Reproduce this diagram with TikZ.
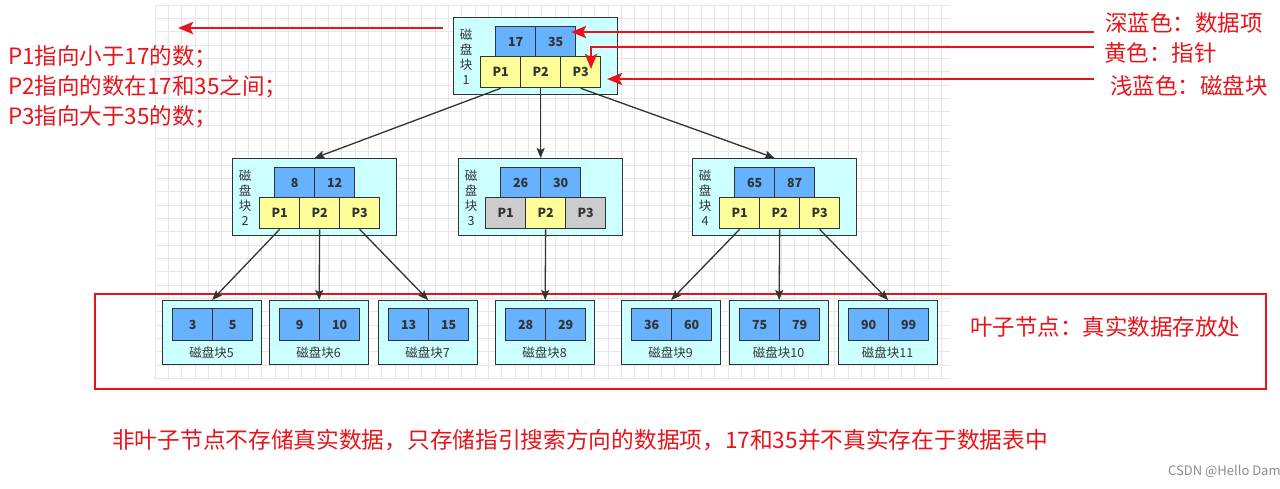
\documentclass[tikz,border=0pt]{standalone}
\usepackage{fontspec}
\setmainfont{Noto Sans CJK SC}
\usetikzlibrary{arrows.meta}
\definecolor{blk}{HTML}{CCFFFF}
\definecolor{keyc}{HTML}{66B2FF}
\definecolor{ptrc}{HTML}{FFFF99}
\definecolor{gryc}{HTML}{CCCCCC}
\definecolor{edgec}{HTML}{333333}
\definecolor{txtc}{HTML}{333333}
\definecolor{myred}{HTML}{E8141B}
\definecolor{gridc}{HTML}{E6E6E6}
\tikzset{
  blockbox/.style={draw=edgec, fill=blk, line width=1.3pt, inner sep=0pt, anchor=north west},
  cell/.style={draw=edgec, line width=1.3pt, minimum width=40pt, inner sep=0pt, anchor=north west,
    font=\fontsize{12.5}{13}\selectfont\bfseries, text=txtc},
  keycell/.style={cell, fill=keyc, minimum height=30pt},
  ptrcell/.style={cell, fill=ptrc, minimum height=31pt},
  grycell/.style={cell, fill=gryc, minimum height=31pt},
  blabel/.style={inner sep=0pt, align=center, text=txtc, font=\fontsize{12.5}{15}\selectfont},
  leaflabel/.style={inner sep=0pt, text=txtc, font=\fontsize{12.5}{15}\selectfont},
  conn/.style={draw=edgec, line width=1.3pt, -{Stealth[length=10pt,width=8pt,inset=2pt]}},
  redarrow/.style={draw=myred, line width=2.9pt, -{Stealth[length=15pt,width=12pt,inset=3pt]}},
  redtext/.style={inner sep=0pt, anchor=west, text=myred, font=\fontsize{22.5}{30}\selectfont},
}
\newcommand\inode[8]{%
  \node[blockbox, minimum width=164pt, minimum height=77pt] (#1) at (#2,#3) {};
  \node[keycell] (#1k1) at ({#2+42},{#3+9}) {#4};
  \node[keycell] (#1k2) at ({#2+82},{#3+9}) {#5};
  \node[#7] (#1p1) at ({#2+27},{#3+39}) {P1};
  \node[ptrcell] (#1p2) at ({#2+67},{#3+39}) {P2};
  \node[#8] (#1p3) at ({#2+107},{#3+39}) {P3};
  \node[blabel] (#1l) at ({#2+13},{#3+39.5}) {磁\\盘\\块\\#6};
}
\newcommand\lnode[5]{%
  \node[blockbox, minimum width=99pt, minimum height=64pt] (#1) at (#2,300) {};
  \node[keycell, minimum height=32pt] (#1k1) at ({#2+10},308) {#3};
  \node[keycell, minimum height=32pt] (#1k2) at ({#2+50},308) {#4};
  \node[leaflabel] (#1l) at ({#2+49.5},353) {磁盘块#5};
}
\begin{document}
\begin{tikzpicture}[x=1pt,y=-1pt]
\useasboundingbox[fill=white] (0,0) rectangle (1280,488);
% grid
\foreach \i in {0,...,59} \draw[gridc, line width=0.8pt] ({155+\i*13.33},5) -- ({155+\i*13.33},380);
\foreach \j in {0,...,28} \draw[gridc, line width=0.8pt] (155,{5+\j*13.33}) -- (950,{5+\j*13.33});
% red frame
\draw[myred, line width=2.6pt] (95,294) rectangle (1266,389);
% internal nodes
\inode{n1}{453}{17}{17}{35}{1}{ptrcell}{ptrcell}
\inode{n2}{232}{158}{8}{12}{2}{ptrcell}{ptrcell}
\inode{n3}{458}{158}{26}{30}{3}{grycell}{grycell}
\inode{n4}{692}{158}{65}{87}{4}{ptrcell}{ptrcell}
% leaves
\lnode{l5}{162}{3}{5}{5}
\lnode{l6}{269}{9}{10}{6}
\lnode{l7}{378}{13}{15}{7}
\lnode{l8}{495}{28}{29}{8}
\lnode{l9}{621}{36}{60}{9}
\lnode{l10}{729}{75}{79}{10}
\lnode{l11}{838}{90}{99}{11}
% connectors
\draw[conn] (n1p1.south) -- (n2.north);
\draw[conn] (n1p2.south) -- (n3.north);
\draw[conn] (n1p3.south) -- (n4.north);
\draw[conn] (n2p1.south) -- (l5.north);
\draw[conn] (n2p2.south) -- (l6.north);
\draw[conn] (n2p3.south) -- (l7.north);
\draw[conn] (n3p2.south) -- (l8.north);
\draw[conn] (n4p1.south) -- (l9.north);
\draw[conn] (n4p2.south) -- (l10.north);
\draw[conn] (n4p3.south) -- (l11.north);
% red annotations
\coordinate (a0s) at (443,28);
\coordinate (a0e) at (178,28);
\draw[redarrow] (a0s) -- (a0e);
\coordinate (a1s) at (1094,32);
\coordinate (a1e) at (571,32);
\draw[redarrow] (a1s) -- (a1e);
\coordinate (a2s) at (1094,47);
\coordinate (a2e) at (591,69);
\draw[redarrow] (a2s) -| (a2e);
\coordinate (a3s) at (1094,79);
\coordinate (a3e) at (607,79);
\draw[redarrow] (a3s) -- (a3e);
\node[redtext] (t1) at (1105,23) {深蓝色：数据项};
\node[redtext] (t2) at (1104,53) {黄色：指针};
\node[redtext] (t3) at (1110,86) {浅蓝色：磁盘块};
\node[redtext] (tl1) at (8,57) {P1指向小于17的数；};
\node[redtext] (tl2) at (8,87) {P2指向的数在17和35之间；};
\node[redtext] (tl3) at (8,117) {P3指向大于35的数；};
\node[redtext] (tleaf) at (970,327) {叶子节点：真实数据存放处};
\node[redtext, font=\fontsize{22.7}{30}\selectfont] (tbot) at (112,440) {非叶子节点不存储真实数据，只存储指引搜索方向的数据项，17和35并不真实存在于数据表中};
\node[inner sep=0pt, anchor=west, text=black!45, font=\fontsize{13}{15}\selectfont] (csdn) at (1168,471) {CSDN @Hello Dam};
\end{tikzpicture}
\end{document}
